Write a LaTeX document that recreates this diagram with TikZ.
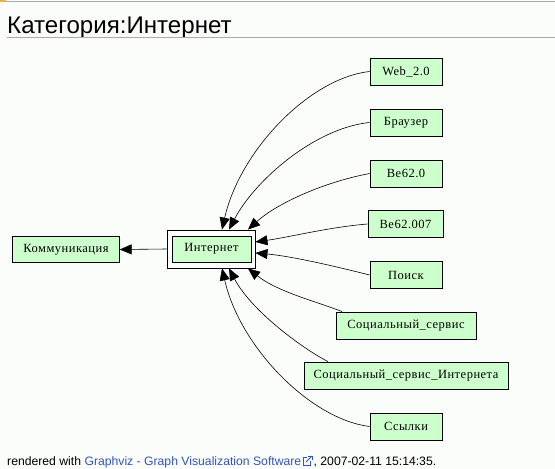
\documentclass[tikz,border=0pt]{standalone}
\usepackage{fontspec}
\setmainfont{Liberation Serif}
\newfontfamily\uisans{Liberation Sans}
\newfontfamily\gvfont[LetterSpace=4]{Liberation Serif}
\usetikzlibrary{arrows.meta}
\definecolor{nodegreen}{RGB}{204,255,204}
\definecolor{bgcol}{RGB}{251,253,251}
\definecolor{rulegray}{RGB}{170,170,170}
\definecolor{linkblue}{RGB}{51,85,187}
\definecolor{taborange}{RGB}{255,170,60}
\begin{document}
\begin{tikzpicture}[x=1pt,y=-1pt,
  gnode/.style={draw=black, line width=0.9pt, fill=nodegreen, minimum height=27pt, inner sep=0pt,
    font=\gvfont\fontsize{12.5}{14}\selectfont},
  gedge/.style={draw=black, line width=0.6pt, -{Triangle[length=12pt,width=10pt]}},
  foottext/.style={anchor=base west, inner sep=0pt, font=\uisans\fontsize{12.2}{15}\selectfont}]
\useasboundingbox[fill=bgcol] (0,0) rectangle (555,469);
% top ui line
\draw[rulegray, line width=1pt] (0,1) -- (555,1);
\draw[taborange, line width=1.5pt] (0,1) -- (6,1);
% title
\node[anchor=base west, inner sep=0pt, font=\uisans\fontsize{24.1}{28}\selectfont] (title) at (7,33) {Категория:Интернет};
\draw[rulegray, line width=1pt] (7,37) -- (555,37);
% nodes
\node[gnode, minimum width=106.5pt, minimum height=26pt] (komm) at (66,249.5) {Коммуникация};
\node[draw=black, line width=0.9pt, fill=white, minimum width=88pt, minimum height=38pt, inner sep=0pt] (inet) at (211,249) {};
\node[gnode, minimum width=79pt, minimum height=26pt] (inetin) at (211.5,249) {Интернет};
\node[gnode, minimum width=72pt] (web) at (406,71.5) {Web\_2.0};
\node[gnode, minimum width=72pt] (braus) at (406,122.5) {Браузер};
\node[gnode, minimum width=72pt] (vea) at (406,173.5) {Ве62.0};
\node[gnode, minimum width=75pt] (veb) at (405.5,224) {Ве62.007};
\node[gnode, minimum width=72pt] (poisk) at (406,275) {Поиск};
\node[gnode, minimum width=140pt] (soc) at (406,325.5) {Социальный\_сервис};
\node[gnode, minimum width=204pt] (socint) at (406,375.5) {Социальный\_сервис\_Интернета};
\node[gnode, minimum width=72pt] (ssyl) at (406,426.5) {Ссылки};
% edges
\draw[gedge] (inet.west) -- (komm.east);
\draw[gedge] (web.west) .. controls (310,78) and (240,150) .. ([xshift=11pt]inet.north);
\draw[gedge] (braus.west) .. controls (315,128) and (255,180) .. ([xshift=18pt]inet.north);
\draw[gedge] (vea.west) .. controls (320,183) and (275,205) .. ([xshift=37pt]inet.north);
\draw[gedge] (veb.west) .. controls (330,227) and (290,237) .. ([yshift=7pt]inet.east);
\draw[gedge] (poisk.west) .. controls (330,265) and (290,256) .. ([yshift=-4pt]inet.east);
\draw[gedge] ([xshift=-64pt]soc.north) .. controls (315,301) and (278,292) .. ([xshift=37pt]inet.south);
\draw[gedge] ([xshift=-78pt]socint.north) .. controls (305,350) and (252,312) .. ([xshift=18pt]inet.south);
\draw[gedge] (ssyl.west) .. controls (310,419) and (240,347) .. ([xshift=11pt]inet.south);
% footer
\node[foottext] (foot) at (7,465) {rendered with \textcolor{linkblue}{Graphviz - Graph Visualization Software}};
\coordinate (ico) at ([xshift=1.5pt,yshift=10pt]foot.base east);
\draw[linkblue, line width=0.8pt] ([shift={(0,2)}]ico) rectangle ([shift={(7,10)}]ico);
\fill[bgcol] ([shift={(4,0)}]ico) rectangle ([shift={(10,6)}]ico);
\draw[linkblue, line width=0.9pt] ([shift={(3,7)}]ico) -- ([shift={(9,1)}]ico);
\draw[linkblue, line width=0.9pt] ([shift={(5,1)}]ico) -- ([shift={(9,1)}]ico) -- ([shift={(9,5)}]ico);
\node[foottext] (foot2) at ([xshift=12pt]foot.base east) {, 2007-02-11 15:14:35.};
\end{tikzpicture}
\end{document}
